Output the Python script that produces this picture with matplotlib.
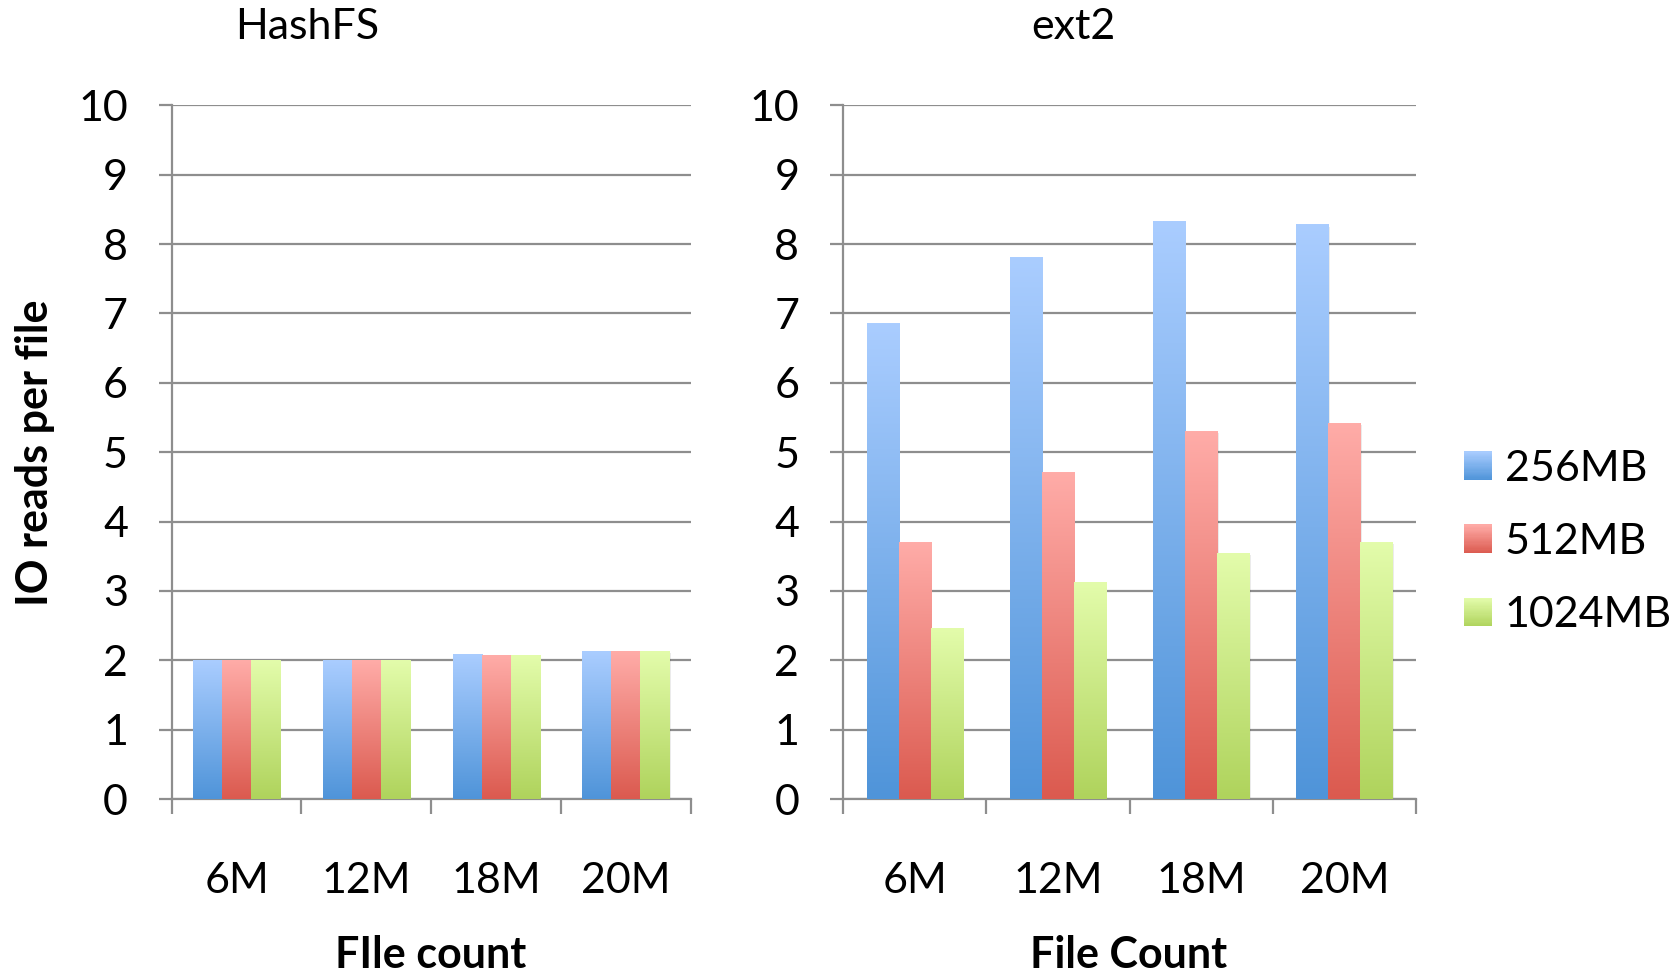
import numpy as np
import matplotlib
matplotlib.use("Agg")
import matplotlib.pyplot as plt
from matplotlib.colors import LinearSegmentedColormap, to_rgb
from matplotlib.legend_handler import HandlerBase
from matplotlib.patches import Patch, Rectangle

plt.rcParams['font.family'] = ['Lato', 'DejaVu Sans']

categories = ["6M", "12M", "18M", "20M"]
series = ["256MB", "512MB", "1024MB"]

hashfs_256 = [2.00, 2.00, 2.09, 2.12]
hashfs_512 = [1.99, 1.99, 2.07, 2.12]
hashfs_1024 = [1.99, 1.99, 2.07, 2.12]

ext2_256 = [6.86, 7.80, 8.33, 8.28]
ext2_512 = [3.70, 4.71, 5.30, 5.42]
ext2_1024 = [2.46, 3.12, 3.54, 3.70]

# (bottom colour, top colour) for each series gradient
grads = [("#4F94D9", "#AACDFF"), ("#DB5A4F", "#FFACA8"), ("#AFD35C", "#E3FCAB")]

GRID = "#8E8E8E"
FS = 31
BAR_W = 0.224

fig = plt.figure(figsize=(16.77, 9.75), dpi=100)
ax1 = fig.add_axes([0.1024, 0.1805, 0.3095, 0.7115])
ax2 = fig.add_axes([0.5027, 0.1805, 0.3417, 0.7115])


def gradient_bars(ax, data, width):
    x = np.arange(len(categories))
    for k, vals in enumerate(data):
        cmap = LinearSegmentedColormap.from_list("g%d" % k, grads[k])
        bars = ax.bar(x + (k - 1) * width, vals, width, color="none", zorder=3)
        for b in bars:
            x0, w, h = b.get_x(), b.get_width(), b.get_height()
            # soft shadow on the right edge
            ax.add_patch(Rectangle((x0 + w * 0.04, 0), w, h * 0.995,
                                   color="#000000", alpha=0.08, zorder=2.5, lw=0))
            ax.imshow(np.linspace(0, 1, 256).reshape(-1, 1), extent=[x0, x0 + w, 0, h],
                      origin="lower", cmap=cmap, aspect="auto", zorder=3)


def style(ax):
    ax.set_xlim(-0.5, len(categories) - 0.5)
    ax.set_ylim(0, 10)
    ax.set_yticks(range(0, 11))
    ax.yaxis.grid(True, color=GRID, lw=1.6, zorder=1)
    ax.set_axisbelow(True)
    for s in ["top", "right"]:
        ax.spines[s].set_visible(False)
    for s in ["left", "bottom"]:
        ax.spines[s].set_color(GRID)
        ax.spines[s].set_linewidth(1.6)
    ax.tick_params(axis="y", length=9.5, width=1.6, color=GRID, labelsize=FS, pad=22)
    ax.set_xticks(np.arange(-0.5, len(categories)))
    ax.set_xticklabels([])
    ax.tick_params(axis="x", which="major", length=11, width=1.6, color=GRID)
    ax.set_xticks(np.arange(len(categories)), minor=True)
    ax.set_xticklabels(categories, minor=True)
    ax.tick_params(axis="x", which="minor", length=0, labelsize=FS, pad=45)


class GradientHandler(HandlerBase):
    def __init__(self, colors):
        super().__init__()
        self.colors = colors

    def create_artists(self, legend, orig_handle, xdescent, ydescent, width, height,
                       fontsize, trans):
        lo, hi = (np.array(to_rgb(c)) for c in self.colors[orig_handle.get_label()])
        n = 24
        out = []
        for i in range(n):
            t = (i + 0.5) / n
            out.append(Rectangle((-xdescent, -ydescent + height * i / n), width,
                                 height / n + 0.3, facecolor=lo + (hi - lo) * t,
                                 edgecolor="none", transform=trans))
        return out


gradient_bars(ax1, [hashfs_256, hashfs_512, hashfs_1024], BAR_W)
gradient_bars(ax2, [ext2_256, ext2_512, ext2_1024], BAR_W)
style(ax1)
style(ax2)

fig.text(0.183, 0.972, "HashFS", fontsize=FS, ha="center", va="center")
fig.text(0.640, 0.972, "ext2", fontsize=FS, ha="center", va="center")
fig.text(0.257, 0.007, "FIle count", fontsize=FS, fontweight="bold", ha="center", va="baseline")
fig.text(0.673, 0.007, "File Count", fontsize=FS, fontweight="bold", ha="center", va="baseline")
fig.text(0.021, 0.536, "IO reads per file", fontsize=FS, fontweight="bold",
         rotation=90, ha="center", va="center")

handles = [Patch(label=s) for s in series]
handler_map = {h: GradientHandler(dict(zip(series, grads))) for h in handles}
fig.legend(handles, series, loc="center left", bbox_to_anchor=(0.873, 0.444),
           frameon=False, fontsize=FS, handlelength=0.65, handleheight=0.63,
           handletextpad=0.3, labelspacing=0.82, borderpad=0, borderaxespad=0,
           handler_map=handler_map)

fig.savefig("out.png", dpi=100)
